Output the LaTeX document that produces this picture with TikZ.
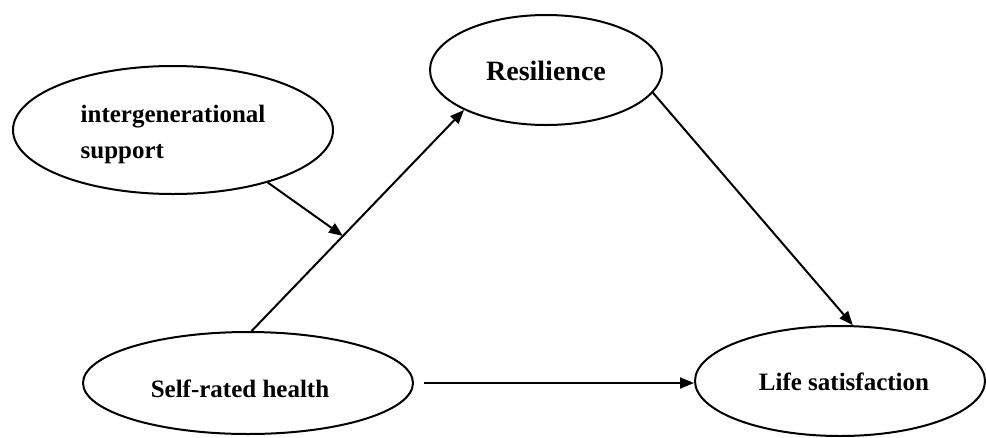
\documentclass[tikz,border=0pt]{standalone}
\usepackage{fontspec}
\setmainfont{Liberation Serif}
\usetikzlibrary{shapes.geometric,arrows.meta,calc}
\begin{document}
\begin{tikzpicture}[x=1pt,y=-1pt,
  oval/.style={draw,ellipse,line width=2pt,inner sep=0pt,font=\fontsize{25}{36}\selectfont\bfseries},
  link/.style={line width=2pt,-{Triangle[length=14pt,width=11pt]}}]
  \useasboundingbox (0,0) rectangle (986,437);
  % constructs (text height/depth place each baseline inside its ellipse)
  \node[oval,minimum width=320pt,minimum height=128pt,text height=0pt,text depth=16pt] (inter) at (173,130)
    {\begin{tabular}[t]{@{}l@{}}intergenerational\\support\end{tabular}};
  \node[oval,minimum width=232pt,minimum height=110pt,text height=20pt,text depth=0pt,
        font=\fontsize{28}{34}\selectfont\bfseries] (res) at (546,70) {Resilience};
  \node[oval,minimum width=330pt,minimum height=102pt,text height=28pt,text depth=0pt] (self) at (248,383)
    {\hspace*{-16pt}Self-rated health};
  \node[oval,minimum width=290pt,minimum height=110pt,text height=18pt,text depth=0pt] (life) at (840,381)
    {\hspace*{8pt}Life satisfaction};
  % paths
  \coordinate (mod) at ($(self.86)!0.43!(res.206)$);
  \draw[link] (self.86) -- (res.206);
  \draw[link] (inter.-29) -- (mod);
  \draw[link] (res.-12) -- (life.77);
  \draw[link] ([xshift=10pt]self.east) -- (self.east -| life.west);
\end{tikzpicture}
\end{document}
